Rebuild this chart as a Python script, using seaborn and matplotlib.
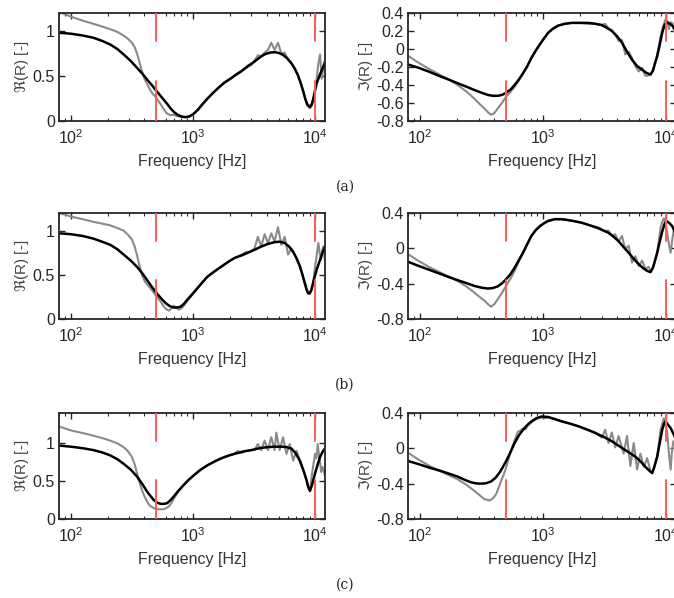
import matplotlib
matplotlib.use("Agg")
import matplotlib.pyplot as plt
import matplotlib.ticker as mticker
import seaborn as sns

# --- data (frequency in Hz, reflection coefficient R) ---
# row (a)
a_re_fit_f = [80, 90, 100, 125, 153, 180, 210, 240, 270, 310, 348, 385, 421, 462, 505, 560, 614, 655, 697,
              750, 817, 870, 930, 1000, 1086, 1200, 1313, 1450, 1588, 1800, 2043, 2250, 2470, 2800, 3182,
              3500, 3845, 4250, 4646, 5050, 5445, 5900, 6380, 6800, 7200, 7600, 8000, 8300, 8600, 9042,
              9350, 9632, 10263, 10934, 11500, 12000]
a_re_fit = [0.98, 0.975, 0.97, 0.95, 0.925, 0.89, 0.85, 0.80, 0.74, 0.665, 0.59, 0.525, 0.46, 0.395, 0.33,
            0.255, 0.19, 0.14, 0.10, 0.068, 0.047, 0.043, 0.05, 0.075, 0.12, 0.19, 0.25, 0.31, 0.36, 0.425,
            0.475, 0.515, 0.55, 0.61, 0.66, 0.705, 0.74, 0.76, 0.765, 0.755, 0.735, 0.695, 0.64, 0.58, 0.51,
            0.42, 0.32, 0.24, 0.18, 0.15, 0.18, 0.25, 0.42, 0.52, 0.59, 0.65]
a_re_meas_f = [80, 90, 100, 125, 153, 180, 210, 240, 270, 295, 316, 333, 348, 365, 382, 400, 421, 440, 462,
               485, 505, 540, 577, 605, 634, 665, 697, 730, 767, 820, 870, 930, 1000, 1086, 1200, 1313, 1450,
               1588, 1800, 2043, 2250, 2470, 2800, 2987, 3182, 3389, 3610, 3845, 4096, 4362, 4646, 4950,
               5274, 5620, 5900, 6380, 6800, 7200, 7600, 8000, 8300, 8600, 9042, 9350, 9632, 10263, 10593,
               10934, 11286, 11650, 12000]
a_re_meas = [1.21, 1.185, 1.16, 1.115, 1.08, 1.05, 1.02, 0.99, 0.95, 0.91, 0.87, 0.82, 0.75, 0.65, 0.55,
             0.47, 0.41, 0.36, 0.31, 0.28, 0.25, 0.19, 0.13, 0.09, 0.07, 0.065, 0.07, 0.055, 0.05, 0.045,
             0.045, 0.05, 0.075, 0.12, 0.19, 0.25, 0.31, 0.365, 0.43, 0.47, 0.52, 0.555, 0.6, 0.62, 0.67,
             0.73, 0.72, 0.76, 0.79, 0.87, 0.79, 0.87, 0.75, 0.76, 0.7, 0.64, 0.58, 0.51, 0.42, 0.32, 0.24,
             0.19, 0.17, 0.19, 0.23, 0.47, 0.64, 0.74, 0.47, 0.6, 0.68]
a_im_fit_f = [81, 98, 120, 147, 175, 202, 240, 276, 315, 355, 390, 429, 465, 501, 545, 587, 635, 687, 745,
              803, 870, 940, 1020, 1099, 1200, 1326, 1500, 1706, 2000, 2333, 2650, 2998, 3300, 3619, 4000,
              4368, 4800, 5274, 5800, 6368, 6900, 7450, 7800, 8100, 8442, 8800, 9275, 9700, 10190, 10700,
              11197, 12000]
a_im_fit = [-0.174, -0.21, -0.255, -0.305, -0.345, -0.38, -0.42, -0.455, -0.485, -0.51, -0.52, -0.52,
            -0.51, -0.485, -0.45, -0.40, -0.34, -0.27, -0.19, -0.10, -0.02, 0.05, 0.12, 0.18, 0.225, 0.26,
            0.28, 0.29, 0.29, 0.29, 0.28, 0.265, 0.235, 0.20, 0.14, 0.07, -0.03, -0.12, -0.19, -0.23,
            -0.265, -0.285, -0.24, -0.16, -0.08, 0.03, 0.18, 0.27, 0.295, 0.28, 0.26, 0.2]
a_im_meas_f = [81, 98, 120, 147, 175, 202, 240, 276, 305, 333, 355, 378, 400, 429, 465, 501, 545, 587, 635,
               687, 745, 803, 870, 940, 1020, 1099, 1200, 1326, 1500, 1706, 2000, 2333, 2650, 2998, 3192,
               3400, 3619, 3850, 4103, 4368, 4651, 4950, 5274, 5616, 5981, 6368, 6700, 6997, 7450, 7800,
               8100, 8442, 8988, 9400, 9876, 10190, 10516, 10850, 11197, 11600, 12000]
a_im_meas = [-0.08, -0.155, -0.225, -0.29, -0.345, -0.40, -0.475, -0.55, -0.61, -0.66, -0.70, -0.73,
             -0.715, -0.66, -0.595, -0.53, -0.475, -0.42, -0.35, -0.27, -0.19, -0.10, -0.02, 0.05, 0.12,
             0.18, 0.225, 0.26, 0.28, 0.29, 0.29, 0.28, 0.28, 0.27, 0.28, 0.23, 0.21, 0.16, 0.09, 0.10,
             -0.06, -0.03, -0.10, -0.19, -0.25, -0.21, -0.29, -0.30, -0.28, -0.24, -0.16, -0.06, 0.14,
             0.25, 0.33, 0.31, 0.22, 0.30, 0.29, 0.20, 0.18]

# row (b)
b_re_fit_f = [80, 90, 100, 125, 153, 180, 210, 240, 270, 310, 348, 385, 421, 462, 505, 550, 596, 645, 697,
              745, 791, 840, 898, 990, 1086, 1200, 1313, 1500, 1691, 1930, 2176, 2500, 2805, 3200, 3610,
              4100, 4646, 5100, 5620, 6100, 6586, 7000, 7475, 7850, 8222, 8500, 8760, 9000, 9300, 9632,
              10263, 10934, 11500, 12000]
b_re_fit = [0.97, 0.965, 0.96, 0.94, 0.91, 0.875, 0.84, 0.79, 0.73, 0.66, 0.59, 0.515, 0.44, 0.36, 0.29,
            0.23, 0.18, 0.145, 0.13, 0.13, 0.14, 0.17, 0.22, 0.285, 0.35, 0.42, 0.48, 0.54, 0.59, 0.645,
            0.69, 0.72, 0.75, 0.785, 0.82, 0.85, 0.87, 0.875, 0.86, 0.82, 0.76, 0.69, 0.6, 0.5, 0.4, 0.33,
            0.29, 0.29, 0.33, 0.42, 0.56, 0.67, 0.76, 0.82]
b_re_meas_f = [80, 90, 100, 125, 153, 180, 210, 240, 270, 295, 316, 333, 348, 365, 382, 405, 434, 470, 505,
               540, 577, 605, 634, 665, 697, 730, 767, 815, 870, 940, 1019, 1150, 1313, 1500, 1691, 1930,
               2176, 2500, 2716, 2950, 3182, 3389, 3610, 3845, 4096, 4362, 4646, 4950, 5274, 5620, 5988,
               6380, 7000, 7475, 7850, 8222, 8500, 8760, 9000, 9300, 9632, 9943, 10263, 10593, 10850, 11140,
               11400, 11650, 12000]
b_re_meas = [1.2, 1.18, 1.16, 1.13, 1.10, 1.08, 1.06, 1.03, 1.0, 0.95, 0.9, 0.82, 0.72, 0.6, 0.5, 0.42,
             0.37, 0.31, 0.255, 0.2, 0.14, 0.11, 0.095, 0.12, 0.15, 0.13, 0.105, 0.13, 0.18, 0.24, 0.3,
             0.39, 0.48, 0.54, 0.59, 0.645, 0.69, 0.73, 0.76, 0.76, 0.80, 0.93, 0.82, 0.96, 0.86, 0.97, 0.88,
             1.04, 0.84, 0.93, 0.73, 0.8, 0.69, 0.59, 0.5, 0.4, 0.33, 0.29, 0.29, 0.34, 0.42, 0.59, 0.72,
             0.86, 0.75, 0.67, 0.78, 0.82, 0.65]
b_im_fit_f = [81, 98, 120, 147, 175, 202, 240, 276, 315, 355, 390, 429, 465, 501, 545, 587, 635, 687, 745,
              803, 870, 940, 1020, 1099, 1245, 1400, 1504, 1750, 2058, 2400, 2816, 3100, 3399, 3750, 4103,
              4500, 4953, 5450, 5981, 6500, 6997, 7450, 7800, 8100, 8442, 8800, 9275, 9700, 10190, 10700,
              11197, 12000]
b_im_fit = [-0.155, -0.2, -0.245, -0.29, -0.33, -0.36, -0.395, -0.425, -0.445, -0.455, -0.45, -0.43, -0.395,
            -0.35, -0.29, -0.22, -0.135, -0.05, 0.05, 0.14, 0.205, 0.25, 0.285, 0.31, 0.33, 0.33, 0.325,
            0.31, 0.29, 0.26, 0.23, 0.2, 0.175, 0.13, 0.08, 0.015, -0.05, -0.12, -0.18, -0.225, -0.255,
            -0.27, -0.22, -0.14, -0.05, 0.06, 0.19, 0.28, 0.305, 0.28, 0.25, 0.16]
b_im_meas_f = [81, 98, 120, 147, 175, 202, 240, 276, 305, 333, 355, 378, 400, 429, 465, 501, 545, 587, 635,
               687, 745, 803, 870, 940, 1020, 1099, 1245, 1400, 1504, 1750, 2058, 2400, 2816, 3100, 3399,
               3619, 3853, 4103, 4368, 4651, 4953, 5274, 5616, 5981, 6368, 6781, 7220, 7450, 7800, 8100,
               8442, 8988, 9275, 9571, 9876, 10190, 10516, 10851, 11197, 11554, 12000]
b_im_meas = [-0.07, -0.145, -0.215, -0.275, -0.325, -0.37, -0.435, -0.5, -0.55, -0.59, -0.63, -0.66,
             -0.635, -0.575, -0.5, -0.425, -0.34, -0.255, -0.15, -0.05, 0.05, 0.14, 0.205, 0.25, 0.285,
             0.31, 0.33, 0.33, 0.325, 0.31, 0.29, 0.26, 0.22, 0.2, 0.20, 0.14, 0.16, 0.08, 0.14, -0.01,
             0.03, -0.16, -0.09, -0.2, -0.14, -0.23, -0.21, -0.26, -0.22, -0.14, -0.05, 0.23, 0.30, 0.34,
             0.28, 0.17, 0.05, -0.05, 0.10, 0.22, 0.06]

# row (c)
c_re_fit_f = [80, 90, 100, 125, 153, 180, 210, 240, 270, 310, 348, 385, 421, 450, 477, 510, 542, 580, 614,
              655, 697, 755, 817, 910, 1019, 1150, 1313, 1500, 1691, 1930, 2176, 2550, 2987, 3500, 4096,
              4650, 5274, 5800, 6380, 6900, 7475, 8000, 8487, 8760, 9042, 9400, 9943, 10450, 10934, 11500,
              12000]
c_re_fit = [0.97, 0.962, 0.955, 0.935, 0.91, 0.88, 0.84, 0.79, 0.73, 0.65, 0.56, 0.46, 0.36, 0.3, 0.25,
            0.215, 0.20, 0.2, 0.21, 0.25, 0.30, 0.37, 0.43, 0.51, 0.58, 0.65, 0.71, 0.76, 0.80, 0.835, 0.86,
            0.89, 0.91, 0.935, 0.95, 0.955, 0.955, 0.95, 0.93, 0.87, 0.77, 0.64, 0.51, 0.42, 0.37, 0.45,
            0.6, 0.72, 0.82, 0.89, 0.93]
c_re_meas_f = [80, 90, 100, 125, 153, 180, 210, 240, 270, 295, 316, 333, 348, 365, 382, 400, 421, 440, 462,
               485, 505, 540, 577, 605, 634, 665, 697, 755, 817, 910, 1019, 1150, 1313, 1500, 1691, 1930,
               2176, 2318, 2470, 2700, 2987, 3182, 3389, 3610, 3845, 4096, 4362, 4646, 4796, 5110, 5445,
               5801, 6180, 6586, 7017, 7475, 8000, 8487, 8760, 9042, 9400, 9943, 10200, 10460, 10700, 10934,
               11150, 11430, 11870, 12000]
c_re_meas = [1.22, 1.195, 1.17, 1.135, 1.10, 1.07, 1.035, 1.0, 0.95, 0.89, 0.82, 0.72, 0.6, 0.48, 0.38,
             0.3, 0.23, 0.18, 0.155, 0.14, 0.13, 0.128, 0.13, 0.145, 0.165, 0.21, 0.27, 0.36, 0.43, 0.51,
             0.58, 0.65, 0.71, 0.76, 0.80, 0.835, 0.86, 0.9, 0.87, 0.9, 0.91, 0.91, 0.99, 0.91, 1.035,
             0.91, 1.08, 0.91, 1.14, 0.91, 1.08, 0.86, 0.99, 0.77, 0.9, 0.77, 0.64, 0.51, 0.42, 0.37, 0.6,
             0.86, 0.8, 0.99, 0.85, 0.75, 0.62, 0.69, 0.6, 0.57]
c_im_fit_f = [81, 98, 120, 147, 175, 202, 230, 260, 290, 313, 345, 378, 410, 443, 470, 501, 545, 587, 635,
              687, 745, 803, 880, 969, 1099, 1250, 1412, 1650, 1933, 2250, 2645, 3100, 3619, 4100, 4651,
              5100, 5616, 6200, 6781, 7250, 7688, 8000, 8442, 8800, 9275, 9600, 9876, 10300, 10851, 11400,
              12000]
c_im_fit = [-0.145, -0.18, -0.22, -0.255, -0.29, -0.32, -0.355, -0.385, -0.398, -0.40, -0.395, -0.375,
            -0.335, -0.275, -0.215, -0.145, -0.04, 0.06, 0.145, 0.21, 0.265, 0.305, 0.34, 0.36, 0.355,
            0.33, 0.305, 0.28, 0.25, 0.215, 0.175, 0.13, 0.08, 0.03, -0.02, -0.055, -0.095, -0.15, -0.21,
            -0.25, -0.28, -0.21, -0.095, 0.04, 0.21, 0.28, 0.305, 0.27, 0.23, 0.17, 0.1]
c_im_meas_f = [81, 98, 120, 147, 175, 202, 240, 276, 305, 333, 366, 390, 415, 435, 456, 478, 501, 525, 551,
               590, 625, 655, 687, 720, 754, 800, 855, 910, 969, 1030, 1099, 1250, 1412, 1650, 1933, 2250,
               2645, 2998, 3192, 3399, 3619, 3853, 4103, 4508, 4800, 5111, 5443, 5796, 6171, 6571, 6997,
               7450, 7688, 8000, 8442, 8988, 9571, 9876, 10190, 10500, 10851, 11100, 11408, 12000]
c_im_meas = [-0.055, -0.13, -0.2, -0.26, -0.31, -0.35, -0.415, -0.48, -0.53, -0.575, -0.59, -0.57, -0.52,
             -0.45, -0.37, -0.3, -0.22, -0.12, -0.02, 0.1, 0.19, 0.2, 0.225, 0.215, 0.26, 0.29, 0.32, 0.34,
             0.35, 0.34, 0.35, 0.33, 0.31, 0.28, 0.25, 0.215, 0.18, 0.12, 0.21, 0.06, 0.18, 0.01, 0.14,
             -0.06, 0.14, -0.2, 0.06, -0.24, -0.06, -0.21, -0.11, -0.26, -0.28, -0.21, -0.09, 0.21, 0.34,
             0.28, 0.17, -0.05, -0.24, -0.05, 0.08, 0.03]

band_edges = [500, 10000]
row_labels = ["(a)", "(b)", "(c)"]
re_ylims = [(0, 1.2), (0, 1.2), (0, 1.4)]
re_ticks = [[0, 0.5, 1], [0, 0.5, 1], [0, 0.5, 1]]
im_ticks = [[-0.8, -0.6, -0.4, -0.2, 0, 0.2, 0.4], [-0.8, -0.4, 0, 0.4], [-0.8, -0.4, 0, 0.4]]

rows = [
    (a_re_fit_f, a_re_fit, a_re_meas_f, a_re_meas, a_im_fit_f, a_im_fit, a_im_meas_f, a_im_meas),
    (b_re_fit_f, b_re_fit, b_re_meas_f, b_re_meas, b_im_fit_f, b_im_fit, b_im_meas_f, b_im_meas),
    (c_re_fit_f, c_re_fit, c_re_meas_f, c_re_meas, c_im_fit_f, c_im_fit, c_im_meas_f, c_im_meas),
]

sns.set_theme(style="ticks")
plt.rcParams["font.family"] = ["Liberation Sans", "DejaVu Sans"]
plt.rcParams["axes.unicode_minus"] = False

fig = plt.figure(figsize=(6.74, 5.98), dpi=100)

# axes boxes in pixels
W, H = 674, 598
row_tops = [13, 213, 413]
row_heights = [108, 106, 106]
label_y = [187, 385, 585]

GREY = "#8a8a8a"
RED = "#ff5a5a"
SPINE = "#262626"


def style_axis(ax, yticks, ylim, ylabel):
    ax.set_xscale("log")
    ax.set_xlim(80, 12000)
    ax.set_ylim(*ylim)
    ax.set_yticks(yticks)
    ax.yaxis.set_major_formatter(mticker.FuncFormatter(lambda v, p: "%g" % round(v, 2)))
    ax.xaxis.set_major_locator(mticker.LogLocator(base=10))
    ax.xaxis.set_minor_locator(mticker.LogLocator(base=10, subs=range(2, 10)))
    ax.xaxis.set_minor_formatter(mticker.NullFormatter())
    ax.tick_params(which="both", direction="in", top=True, right=True, colors=SPINE,
                   labelsize=11.5, pad=3)
    ax.tick_params(axis="x", which="major", pad=5)
    ax.tick_params(which="major", length=4, width=1.0)
    ax.tick_params(which="minor", length=2.2, width=0.8)
    for s in ax.spines.values():
        s.set_linewidth(1.3)
        s.set_color(SPINE)
    ax.set_xlabel("Frequency [Hz]", fontsize=11.5, color="#333333", labelpad=5)
    ax.set_ylabel(ylabel, fontsize=11, color="#444444", labelpad=1)


for i, data in enumerate(rows):
    re_ff, re_f, re_mf, re_m, im_ff, im_f, im_mf, im_m = data
    bottom = 1 - (row_tops[i] + row_heights[i]) / H
    h = row_heights[i] / H
    ax_re = fig.add_axes([59 / W, bottom, 266 / W, h])
    ax_im = fig.add_axes([408 / W, bottom, 268 / W, h])

    for ax, mf, mv, ff, fv in [(ax_re, re_mf, re_m, re_ff, re_f), (ax_im, im_mf, im_m, im_ff, im_f)]:
        sns.lineplot(x=mf, y=mv, ax=ax, color=GREY, linewidth=1.5, estimator=None, sort=False)
        sns.lineplot(x=ff, y=fv, ax=ax, color="black", linewidth=1.8, estimator=None, sort=False)
        for f in band_edges:
            ax.axvline(f, ymin=0, ymax=0.37, color=RED, linewidth=1.4, zorder=5)
            ax.axvline(f, ymin=0.74, ymax=1, color=RED, linewidth=1.4, zorder=5)

    style_axis(ax_re, re_ticks[i], re_ylims[i], r"$\Re$(R) [-]")
    style_axis(ax_im, im_ticks[i], (-0.8, 0.4), r"$\Im$(R) [-]")

    fig.text(345 / W, 1 - label_y[i] / H, row_labels[i], ha="center", va="center",
             fontsize=10, family=["DejaVu Serif"], color="#222222")

fig.savefig("out.png", dpi=100)
